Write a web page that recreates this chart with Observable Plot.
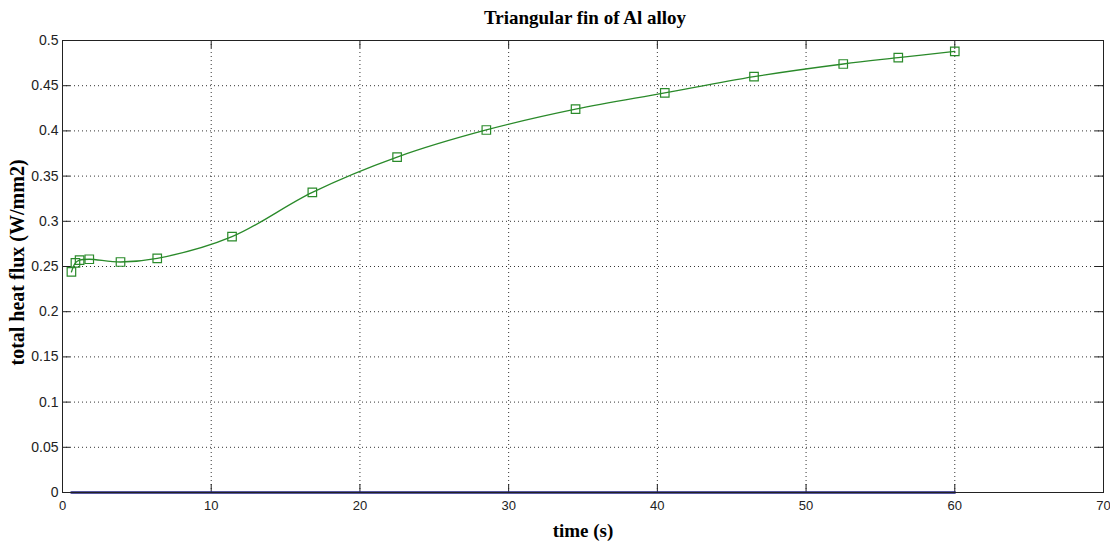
<!DOCTYPE html>
<html>
<head>
<meta charset="utf-8">
<script src="https://cdn.jsdelivr.net/npm/d3@7"></script>
<script src="https://cdn.jsdelivr.net/npm/@observablehq/plot@0.6"></script>
<style>
  html, body { margin: 0; padding: 0; background: #fff; }
  #wrap { width: 1110px; height: 544px; overflow: hidden; }
  #title {
    box-sizing: border-box; width: 1110px; height: 30px; padding-left: 60px;
    text-align: center; font: bold 19px "Liberation Serif", "Times New Roman", serif;
    line-height: 36px; color: #000;
  }
</style>
</head>
<body>
<div id="wrap">
  <div id="title">Triangular fin of Al alloy</div>
  <div id="chart"></div>
</div>
<script>
const chartTitle = "Triangular fin of Al alloy";
const xLabel = "time (s)";
const yLabel = "total heat flux (W/mm2)";

const times = [0.6, 0.87, 1.15, 1.8, 3.9, 6.37, 11.4, 16.8, 22.5, 28.5, 34.5, 40.5, 46.5, 52.5, 56.2, 60.0];
const totalHeatFlux = [0.244, 0.254, 0.257, 0.258, 0.255, 0.259, 0.283, 0.332, 0.371, 0.401, 0.424, 0.442, 0.460, 0.474, 0.481, 0.488];
const baseline = [0, 0, 0, 0, 0, 0, 0, 0, 0, 0, 0, 0, 0, 0, 0, 0];

const xTicks = [0, 10, 20, 30, 40, 50, 60, 70];
const yTicks = [0, 0.05, 0.1, 0.15, 0.2, 0.25, 0.3, 0.35, 0.4, 0.45, 0.5];

const green = times.map((t, i) => ({t, v: totalHeatFlux[i]}));
const blue = times.map((t, i) => ({t, v: baseline[i]}));

const fmt = d => String(+d.toFixed(2));
const tickFont = "'Liberation Sans Narrow', 'Liberation Sans', Arial, sans-serif";
const labelFont = "'Liberation Serif', 'Times New Roman', serif";

const W = 1110, H = 514, mT = 10, mB = 52, mL = 62, mR = 7;
const xDomain = [0, 70], yDomain = [0, 0.5];
// inward tick length of 8px expressed in each scale's units
const tickLen = 8;
const yTickUnits = tickLen * (yDomain[1] - yDomain[0]) / (H - mT - mB);
const xTickUnits = tickLen * (xDomain[1] - xDomain[0]) / (W - mL - mR);
const tickStyle = {stroke: "#222", strokeWidth: 1};

const plot = Plot.plot({
  width: W,
  height: H,
  marginTop: mT,
  marginBottom: mB,
  marginLeft: mL,
  marginRight: mR,
  style: {background: "#fff", color: "#000"},
  x: {domain: xDomain, label: null},
  y: {domain: yDomain, label: null},
  marks: [
    Plot.gridX(xTicks.filter(d => d > 0 && d < 70), {stroke: "#000", strokeOpacity: 0.8, strokeDasharray: "1,3"}),
    Plot.gridY(yTicks.filter(d => d > 0 && d < 0.5), {stroke: "#000", strokeOpacity: 0.8, strokeDasharray: "1,3"}),
    Plot.axisX(xTicks, {anchor: "bottom", tickSize: 0, tickPadding: 8, tickFormat: fmt, fontSize: 13, fontFamily: tickFont, fill: "#222", label: null}),
    Plot.axisY(yTicks, {anchor: "left", tickSize: 0, tickPadding: 4, tickFormat: fmt, fontSize: 14, fontFamily: tickFont, fill: "#222", label: null}),
    Plot.ruleX(xTicks, {x: d => d, y1: yDomain[0], y2: yDomain[0] + yTickUnits, ...tickStyle}),
    Plot.ruleX(xTicks, {x: d => d, y1: yDomain[1] - yTickUnits, y2: yDomain[1], ...tickStyle}),
    Plot.ruleY(yTicks, {y: d => d, x1: xDomain[0], x2: xDomain[0] + xTickUnits, ...tickStyle}),
    Plot.ruleY(yTicks, {y: d => d, x1: xDomain[1] - xTickUnits, x2: xDomain[1], ...tickStyle}),
    Plot.line(green, {x: "t", y: "v", stroke: "#2a8a2a", strokeWidth: 1.3, curve: "catmull-rom"}),
    Plot.dot(green, {x: "t", y: "v", symbol: "square", r: 4.8, stroke: "#2a8a2a", fill: "none", strokeWidth: 1.2}),
    Plot.line(blue, {x: "t", y: "v", stroke: "#202080", strokeWidth: 2.5}),
    Plot.frame({stroke: "#222", strokeWidth: 1}),
    Plot.text([xLabel], {frameAnchor: "bottom", dy: 38, lineAnchor: "middle", textAnchor: "middle", text: d => d, fontSize: 19, fontWeight: "bold", fontFamily: labelFont, fill: "#000"}),
    Plot.text([yLabel], {frameAnchor: "left", dx: -45, dy: -4, rotate: -90, textAnchor: "middle", lineAnchor: "middle", text: d => d, fontSize: 20, fontWeight: "bold", fontFamily: labelFont, fill: "#000"})
  ]
});
document.getElementById("chart").appendChild(plot);
</script>
</body>
</html>
